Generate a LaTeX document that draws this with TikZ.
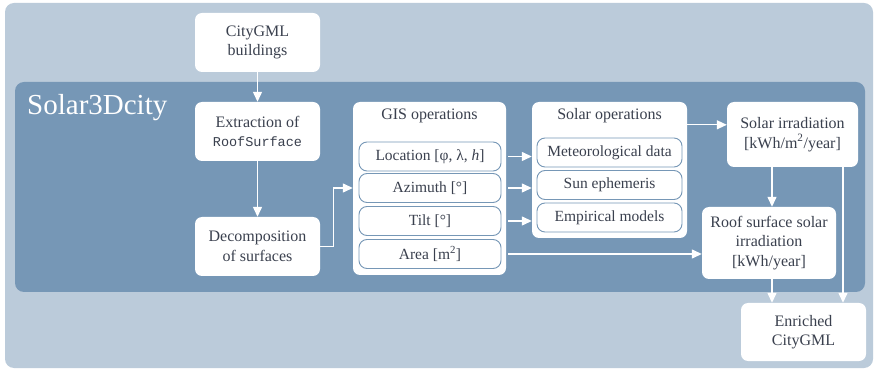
\documentclass[tikz,border=0pt]{standalone}
\usepackage{fontspec}
\setmainfont{Liberation Serif}
\setmonofont{Liberation Mono}
\usetikzlibrary{arrows.meta,positioning}
\definecolor{panelblue}{RGB}{118,151,182}
\definecolor{paleblue}{RGB}{187,203,218}
\definecolor{inkgray}{RGB}{58,64,78}

\begin{document}
\begin{tikzpicture}[x=1pt,y=-1pt,>={Triangle[width=9pt,length=10pt]},
  box/.style={fill=white,rounded corners=7pt,align=center,text=inkgray,inner sep=0pt,font=\fontsize{16}{19.5}\selectfont},
  tagbox/.style={draw=panelblue,line width=0.9pt,fill=white,rounded corners=8pt,inner sep=0pt,text=inkgray,font=\fontsize{15.5}{17}\selectfont},
  boxtitle/.style={text=inkgray,inner sep=0pt,font=\fontsize{16}{18}\selectfont},
  flow/.style={->,white,line width=1.3pt}]
\useasboundingbox (0,0) rectangle (878,371);
% backgrounds
\fill[paleblue,rounded corners=9pt] (5,3) rectangle (873,368);
\fill[panelblue,rounded corners=9pt] (15,82) rectangle (865,292);
\node[anchor=base west,text=white,inner sep=0pt,font=\fontsize{29}{31}\selectfont] (tool) at (27,115) {Solar3Dcity};

% main boxes
\node[box,minimum width=125pt,minimum height=59pt] (citygml) at (257.5,42.5) {CityGML\\buildings};
\node[box,minimum width=125pt,minimum height=59pt] (extract) at (257.5,131.5) {Extraction of\\{\fontsize{13.5}{19.5}\ttfamily RoofSurface}};
\node[box,minimum width=125pt,minimum height=59pt] (decomp) at (257.5,246.5) {Decomposition\\of surfaces};
\node[box,minimum width=153pt,minimum height=173pt] (gis) at (429.5,188.5) {};
\node[boxtitle] (gistitle) at ([yshift=-14pt]gis.north) {GIS operations};
\node[box,minimum width=155pt,minimum height=136pt] (sol) at (609.5,170) {};
\node[boxtitle] (soltitle) at ([yshift=-14pt]sol.north) {Solar operations};
\node[box,minimum width=131pt,minimum height=65pt] (irr) at (792.5,134.5) {Solar irradiation\\{}[kWh/m\textsuperscript{2}/year]};
\node[box,minimum width=134pt,minimum height=72pt] (roof) at (769,243) {Roof surface solar\\irradiation\\{}[kWh/year]};
\node[box,minimum width=125pt,minimum height=58pt] (enr) at (803.5,332) {Enriched\\CityGML};

% parameter boxes
\foreach \name/\y/\txt in {loc/156.5/{Location [φ, λ, \textit{h}]},azi/188/{Azimuth [°]},tilt/221/{Tilt [°]},area/254/{Area [m\textsuperscript{2}]}}
  \node[tagbox,minimum width=142pt,minimum height=29pt] (\name) at (430,\y) {\txt};
\foreach \name/\y/\txt in {meteo/152.5/{Meteorological data},ephem/185/{Sun ephemeris},model/217.5/{Empirical models}}
  \node[tagbox,minimum width=145pt,minimum height=29pt] (\name) at (609.5,\y) {\txt};

% connectors
\draw[flow] (citygml) -- (extract);
\draw[flow] (extract) -- (decomp);
\draw[flow] (decomp.east) -- ++(13,0) |- (azi.west -| gis.west);
\foreach \name in {loc,azi,tilt}
  \draw[flow] ([xshift=2pt]\name.east -| gis.east) -- (\name.east -| sol.west);
\draw[flow] ([xshift=2pt]area.east -| gis.east) -- (area.east -| roof.west);
\draw[flow] ([yshift=-23pt]sol.north east) -- ([yshift=-23pt]sol.north east -| irr.west);
\draw[flow] ([xshift=3pt]roof.north |- irr.south) -- ([xshift=3pt]roof.north);
\draw[flow] ([xshift=3pt]roof.south) -- ([xshift=3pt]roof.south |- enr.north);
\draw[flow] ([xshift=50.5pt]irr.south) -- ([xshift=50.5pt]irr.south |- enr.north);
\end{tikzpicture}
\end{document}
